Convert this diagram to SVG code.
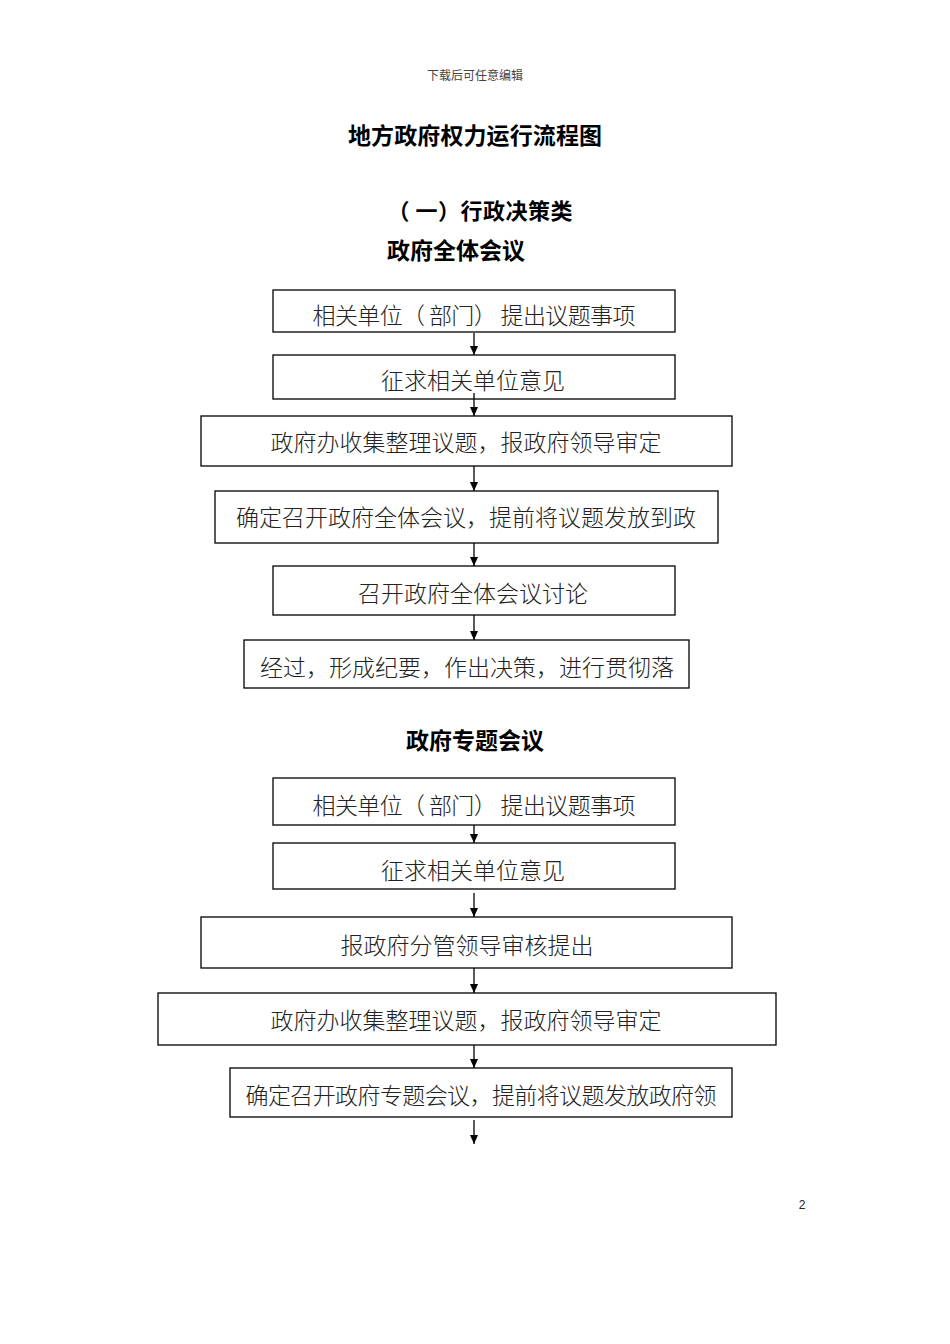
<svg xmlns="http://www.w3.org/2000/svg" width="950" height="1344" viewBox="0 0 950 1344">
<defs>
<marker id="ah" markerWidth="10" markerHeight="10" refX="9" refY="5" orient="auto" markerUnits="userSpaceOnUse">
<path d="M0,1 L9,5 L0,9 Z" fill="#000"/>
</marker>
<style>
.box{fill:#fff;stroke:#000;stroke-width:1.3}
.t{font-family:"Noto Sans CJK SC","Noto Sans",sans-serif;font-size:23px;fill:#222;text-anchor:middle;dominant-baseline:central;font-weight:300}
.h{font-family:"Noto Sans CJK SC","Noto Sans",sans-serif;font-weight:bold;fill:#000;text-anchor:middle;dominant-baseline:central}
.c{stroke:#000;stroke-width:1.3;fill:none;marker-end:url(#ah)}
</style>
</defs>
<rect width="950" height="1344" fill="#fff"/>
<text x="475" y="74" style="font-family:'Noto Sans CJK SC',sans-serif;font-size:12px;fill:#444;text-anchor:middle;dominant-baseline:central">下载后可任意编辑</text>
<text class="h" x="475" y="134" font-size="23" textLength="254" lengthAdjust="spacing">地方政府权力运行流程图</text>
<text class="h" x="480" y="209" font-size="22" textLength="185" lengthAdjust="spacing">（ 一）行政决策类</text>
<text class="h" x="456" y="249" font-size="23">政府全体会议</text>
<text class="h" x="475" y="739" font-size="23">政府专题会议</text>
<text x="802" y="1205" style="font-family:'Liberation Sans',sans-serif;font-size:12px;fill:#222;text-anchor:middle;dominant-baseline:central">2</text>

<g id="connectors">
<line class="c" x1="474" y1="333" x2="474" y2="355"/>
<line class="c" x1="474" y1="393" x2="474" y2="416"/>
<line class="c" x1="474" y1="466" x2="474" y2="491"/>
<line class="c" x1="474" y1="543" x2="474" y2="566"/>
<line class="c" x1="474" y1="615" x2="474" y2="640"/>
<line class="c" x1="474" y1="825" x2="474" y2="843"/>
<line class="c" x1="474" y1="893" x2="474" y2="917"/>
<line class="c" x1="474" y1="968" x2="474" y2="993"/>
<line class="c" x1="474" y1="1045" x2="474" y2="1068"/>
<line class="c" x1="474" y1="1120" x2="474" y2="1144"/>
</g>

<g id="n1"><rect class="box" x="273" y="290" width="402" height="42"/><text class="t" x="474" y="314" textLength="323" lengthAdjust="spacing">相关单位（ 部门） 提出议题事项</text></g>
<g id="n2"><rect class="box" x="273" y="355" width="402" height="44" fill-opacity="0"/><text class="t" x="473" y="379">征求相关单位意见</text></g>
<g id="n3"><rect class="box" x="201" y="416" width="531" height="50"/><text class="t" x="466" y="441">政府办收集整理议题，报政府领导审定</text></g>
<g id="n4"><rect class="box" x="215" y="491" width="503" height="52"/><text class="t" x="466" y="516">确定召开政府全体会议，提前将议题发放到政</text></g>
<g id="n5"><rect class="box" x="273" y="566" width="402" height="49"/><text class="t" x="473" y="592">召开政府全体会议讨论</text></g>
<g id="n6"><rect class="box" x="244" y="640" width="445" height="48"/><text class="t" x="467" y="666">经过，形成纪要，作出决策，进行贯彻落</text></g>

<g id="n7"><rect class="box" x="273" y="778" width="402" height="47"/><text class="t" x="474" y="804" textLength="323" lengthAdjust="spacing">相关单位（ 部门） 提出议题事项</text></g>
<g id="n8"><rect class="box" x="273" y="843" width="402" height="46"/><text class="t" x="473" y="869">征求相关单位意见</text></g>
<g id="n9"><rect class="box" x="201" y="917" width="531" height="51"/><text class="t" x="467" y="944">报政府分管领导审核提出</text></g>
<g id="n10"><rect class="box" x="158" y="993" width="618" height="52"/><text class="t" x="466" y="1019">政府办收集整理议题，报政府领导审定</text></g>
<g id="n11"><rect class="box" x="230" y="1068" width="502" height="49"/><text class="t" x="481" y="1094" textLength="471" lengthAdjust="spacing">确定召开政府专题会议，提前将议题发放政府领</text></g>
</svg>
